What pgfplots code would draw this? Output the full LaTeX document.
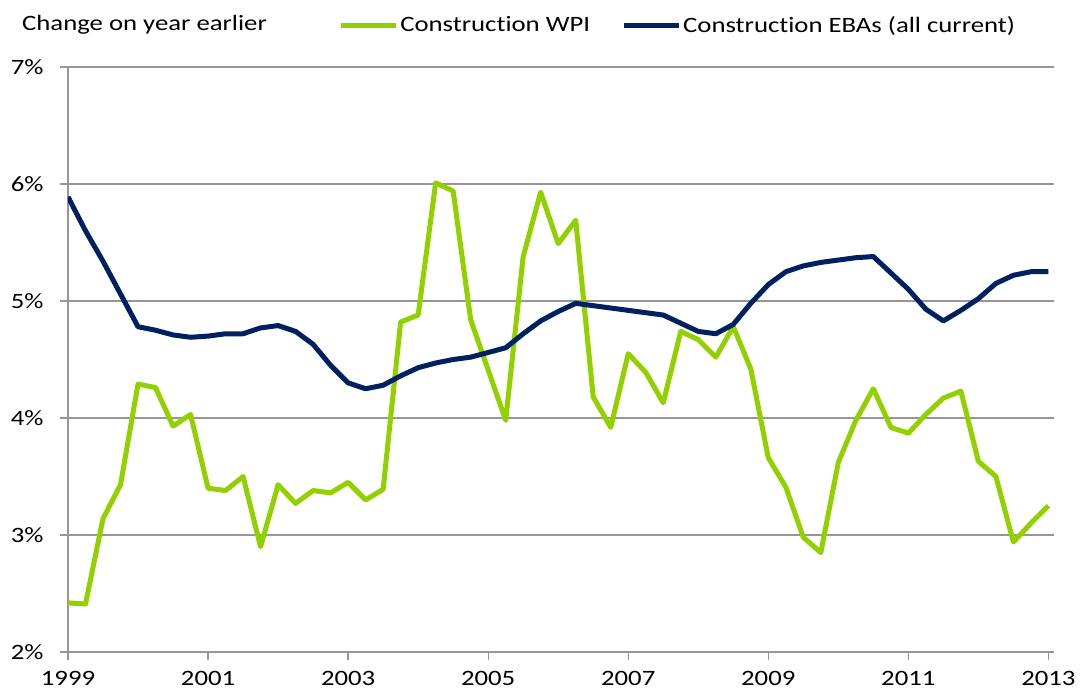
\documentclass[border=0pt]{standalone}
\usepackage{fontspec}
\setmainfont{Carlito}[FakeStretch=1.22, Ligatures=NoCommon]
\usepackage{pgfplots}
\usepackage{pgfplotstable}
\pgfplotsset{compat=1.18}
\definecolor{wpigreen}{RGB}{146,208,0}
\definecolor{ebanavy}{RGB}{0,32,96}
\definecolor{gridgray}{RGB}{150,150,150}

\pgfplotstableread{
x y
1999.00 2.42
1999.25 2.41
1999.50 3.14
1999.75 3.43
2000.00 4.29
2000.25 4.26
2000.50 3.93
2000.75 4.03
2001.00 3.40
2001.25 3.38
2001.50 3.50
2001.75 2.90
2002.00 3.43
2002.25 3.27
2002.50 3.38
2002.75 3.36
2003.00 3.45
2003.25 3.30
2003.50 3.39
2003.75 4.82
2004.00 4.88
2004.25 6.01
2004.50 5.94
2004.75 4.84
2005.00 4.41
2005.25 3.98
2005.50 5.38
2005.75 5.93
2006.00 5.49
2006.25 5.69
2006.50 4.18
2006.75 3.92
2007.00 4.55
2007.25 4.39
2007.50 4.13
2007.75 4.74
2008.00 4.67
2008.25 4.52
2008.50 4.78
2008.75 4.42
2009.00 3.66
2009.25 3.41
2009.50 2.98
2009.75 2.85
2010.00 3.62
2010.25 3.98
2010.50 4.25
2010.75 3.92
2011.00 3.87
2011.25 4.03
2011.50 4.17
2011.75 4.23
2012.00 3.63
2012.25 3.50
2012.50 2.94
2012.75 3.10
2013.00 3.25
}\wpi

\pgfplotstableread{
x y
1999.00 5.89
1999.25 5.60
1999.50 5.34
1999.75 5.06
2000.00 4.78
2000.25 4.75
2000.50 4.71
2000.75 4.69
2001.00 4.70
2001.25 4.72
2001.50 4.72
2001.75 4.77
2002.00 4.79
2002.25 4.74
2002.50 4.63
2002.75 4.45
2003.00 4.30
2003.25 4.25
2003.50 4.28
2003.75 4.36
2004.00 4.43
2004.25 4.47
2004.50 4.50
2004.75 4.52
2005.00 4.56
2005.25 4.60
2005.50 4.72
2005.75 4.83
2006.00 4.91
2006.25 4.98
2006.50 4.96
2006.75 4.94
2007.00 4.92
2007.25 4.90
2007.50 4.88
2007.75 4.81
2008.00 4.74
2008.25 4.72
2008.50 4.80
2008.75 4.98
2009.00 5.14
2009.25 5.25
2009.50 5.30
2009.75 5.33
2010.00 5.35
2010.25 5.37
2010.50 5.38
2010.75 5.24
2011.00 5.10
2011.25 4.93
2011.50 4.83
2011.75 4.92
2012.00 5.02
2012.25 5.15
2012.50 5.22
2012.75 5.25
2013.00 5.25
}\eba

\begin{document}
\fontsize{22}{26}\selectfont
\begin{tikzpicture}
\useasboundingbox (-68bp,-45bp) rectangle (1023bp,652bp);
\begin{axis}[
  at={(0,0)}, anchor=south west,
  scale only axis,
  width=986bp, height=585bp,
  xmin=1999, xmax=2013.08,
  ymin=2, ymax=7,
  axis lines=left,
  axis line style={-, draw=gridgray, line width=1.3bp},
  xtick={1999,2001,2003,2005,2007,2009,2011,2013},
  xticklabels={1999,2001,2003,2005,2007,2009,2011,2013},
  ytick={2,3,4,5,6,7},
  yticklabels={2\%,3\%,4\%,5\%,6\%,7\%},
  ymajorgrids,
  major grid style={draw=gridgray, line width=1.3bp},
  tick align=outside,
  major tick length=8bp,
  tick style={draw=gridgray, line width=1.3bp},
  every tick label/.append style={font=\fontsize{22}{26}\selectfont, text=black},
  yticklabel style={xshift=-9bp},
  xticklabel style={yshift=-4bp},
  legend columns=2,
  legend style={at={(0.2745,1.0706)}, anchor=west, draw=none, fill=none,
    inner sep=0pt, font=\fontsize{22}{26}\selectfont,
    nodes={inner sep=1.5bp},
    /tikz/every even column/.append style={column sep=30bp}},
  legend image code/.code={\draw[#1, line width=5bp] (0bp,0bp) -- (55bp,0bp);},
  line join=round,
]
\addplot[wpigreen, line width=5bp] table[x=x,y=y] {\wpi};
\addlegendentry{Construction WPI}
\addplot[ebanavy, line width=5bp] table[x=x,y=y] {\eba};
\addlegendentry{Construction EBAs (all current)}
\end{axis}
\node[anchor=west, inner sep=0pt] at (-46bp,627bp) {Change on year earlier};
\end{tikzpicture}
\end{document}
